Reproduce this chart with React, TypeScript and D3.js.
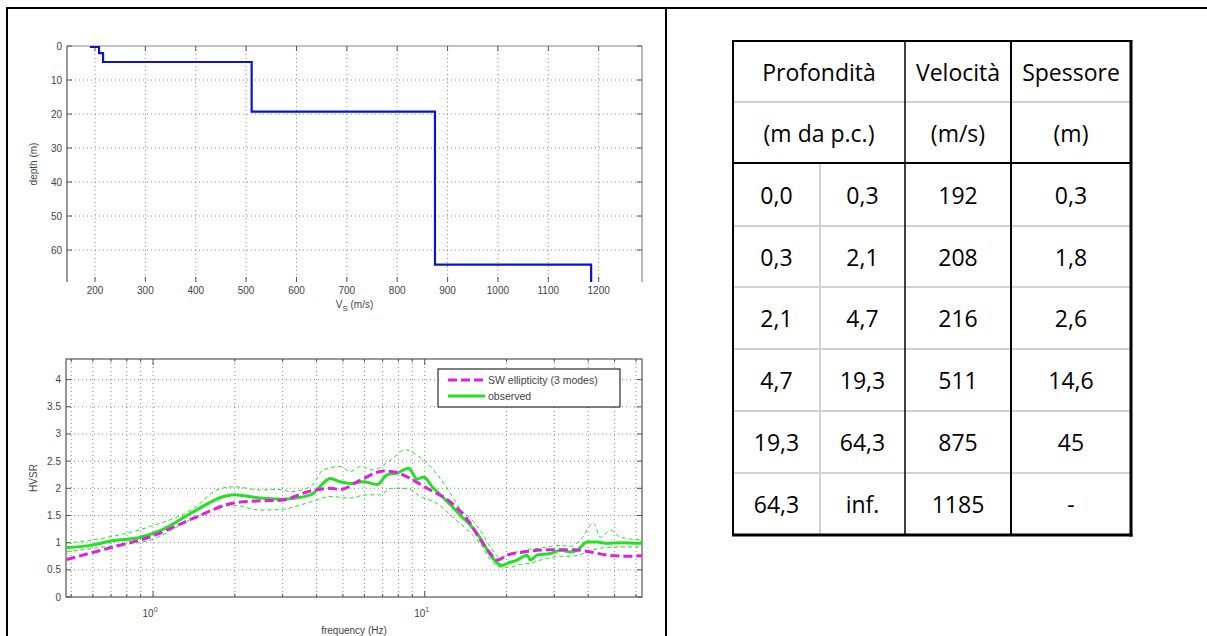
import React from 'react';
import * as d3 from 'd3';

// ---- Table / profile data ----
const depthTop = [0, 0.3, 2.1, 4.7, 19.3, 64.3];
const depthBottom = [0.3, 2.1, 4.7, 19.3, 64.3, Infinity];
const vsValues = [192, 208, 216, 511, 875, 1185];
const thicknessLabels = ['0,3', '1,8', '2,6', '14,6', '45', '-'];

const vsTicks = [200, 300, 400, 500, 600, 700, 800, 900, 1000, 1100, 1200];
const depthTicks = [0, 10, 20, 30, 40, 50, 60];

// ---- HVSR data ----
const ellFreq = [0.48, 0.70, 0.98, 1.41, 1.98, 2.48, 2.94, 3.80, 4.50, 4.89, 5.80, 7.06, 7.91, 8.86, 10.2, 12.43, 14.73, 16.04, 17.46, 18.47, 20.11, 23.14, 29.03, 35.38, 40.75, 46.95, 55.63, 63.1];
const ellVal = [0.69, 0.91, 1.11, 1.45, 1.73, 1.77, 1.78, 1.95, 2.00, 1.98, 2.15, 2.32, 2.29, 2.18, 2.00, 1.75, 1.35, 1.05, 0.80, 0.68, 0.77, 0.83, 0.87, 0.87, 0.83, 0.77, 0.75, 0.76];

const obsFreq = [0.48, 0.59, 0.70, 0.90, 1.06, 1.41, 1.82, 1.98, 2.48, 2.94, 3.80, 4.50, 4.89, 5.33, 5.95, 6.68, 7.27, 7.91, 8.73, 9.38, 9.92, 10.65, 11.59, 12.43, 13.53, 14.73, 16.04, 17.46, 19.27, 20.11, 21.89, 23.83, 24.51, 25.94, 29.03, 31.60, 34.40, 36.41, 39.63, 43.13, 46.95, 52.56, 62.26, 63.1];
const obsVal = [0.91, 0.95, 1.03, 1.10, 1.22, 1.57, 1.85, 1.88, 1.82, 1.80, 1.88, 2.18, 2.12, 2.09, 2.12, 2.07, 2.25, 2.28, 2.37, 2.17, 2.21, 2.03, 1.85, 1.70, 1.50, 1.32, 1.08, 0.77, 0.58, 0.62, 0.68, 0.77, 0.68, 0.77, 0.80, 0.86, 0.83, 0.86, 1.01, 1.01, 0.99, 1.00, 0.99, 1.02];

const obsUpFreq = [0.48, 0.70, 0.98, 1.41, 1.72, 1.98, 2.48, 2.94, 3.20, 3.80, 4.24, 4.89, 5.33, 5.80, 6.47, 7.48, 8.49, 9.09, 10.2, 11.42, 12.43, 13.53, 14.73, 16.04, 17.46, 19.0, 20.68, 22.51, 24.51, 26.67, 29.03, 31.60, 34.40, 37.44, 41.80, 44.36, 48.29, 52.56, 63.1];
const obsUpVal = [0.99, 1.11, 1.30, 1.63, 1.97, 2.03, 1.97, 1.98, 1.94, 2.03, 2.34, 2.40, 2.31, 2.40, 2.34, 2.52, 2.71, 2.65, 2.46, 2.18, 1.91, 1.62, 1.45, 1.22, 0.92, 0.72, 0.80, 0.84, 0.88, 0.90, 0.93, 0.95, 0.93, 1.05, 1.36, 1.10, 1.23, 1.10, 1.05];

const obsLoFreq = [0.48, 0.70, 0.98, 1.41, 1.98, 2.48, 2.94, 3.80, 4.50, 5.33, 6.05, 6.87, 7.48, 8.61, 9.64, 11.11, 12.43, 13.53, 14.73, 16.04, 17.46, 19.0, 20.68, 22.51, 24.51, 26.67, 29.03, 31.60, 34.40, 37.44, 40.75, 44.36, 52.56, 63.1];
const obsLoVal = [0.83, 0.94, 1.05, 1.45, 1.69, 1.60, 1.61, 1.75, 1.85, 1.82, 1.88, 1.88, 2.00, 2.00, 1.85, 1.72, 1.51, 1.35, 1.18, 0.98, 0.68, 0.55, 0.55, 0.60, 0.62, 0.68, 0.72, 0.75, 0.75, 0.78, 0.85, 0.90, 0.92, 0.92];

const hvsrTicks = [0, 0.5, 1, 1.5, 2, 2.5, 3, 3.5, 4];
const hvsrTickLabels = ['0', '0.5', '1', '1.5', '2', '2.5', '3', '3.5', '4'];
const freqGrid = [0.5, 0.6, 0.7, 0.8, 0.9, 1, 2, 3, 4, 5, 6, 7, 8, 9, 10, 20, 30, 40, 50, 60];
const freqMajor = [1, 10];
const freqMajorExp = ['0', '1'];
const legendLabels = ['SW ellipticity (3 modes)', 'observed'];

const tableHeader1 = ['Profondità', 'Velocità', 'Spessore'];
const tableHeader2 = ['(m da p.c.)', '(m/s)', '(m)'];

const fmt = (v: number) => v.toFixed(1).replace('.', ',');

const AX = '#555';
const TXT = '#444';
const GRID = '#8a8a8a';
const chartFont = 'Liberation Sans, Arial, sans-serif';

function zip(a: number[], b: number[]): [number, number][] {
  return a.map((v, i) => [v, b[i]]);
}

function TopChart() {
  const L = 67, R = 642, T = 46, B = 282;
  const x = d3.scaleLinear().domain([144.4, 1286]).range([L, R]);
  const y = d3.scaleLinear().domain([0, 69.4]).range([T, B]);
  const pts: [number, number][] = [];
  vsValues.forEach((v, i) => {
    pts.push([v, depthTop[i]]);
    pts.push([v, Math.min(depthBottom[i], 69.4)]);
  });
  const line = d3.line<[number, number]>().x(d => x(d[0])).y(d => y(d[1]));
  return (
    <g fontFamily={chartFont}>
      {vsTicks.map(t => (
        <line key={'gv' + t} x1={x(t)} x2={x(t)} y1={T} y2={B} stroke={GRID} strokeWidth={1} strokeDasharray="1,3" />
      ))}
      {depthTicks.filter(t => t > 0).map(t => (
        <line key={'gh' + t} x1={L} x2={R} y1={y(t)} y2={y(t)} stroke={GRID} strokeWidth={1} strokeDasharray="1,3" />
      ))}
      <line x1={L} x2={R} y1={T} y2={T} stroke="#888" strokeWidth={1.2} />
      <line x1={L} x2={L} y1={T} y2={B} stroke={AX} strokeWidth={1.2} />
      <line x1={R} x2={R} y1={T} y2={B} stroke="#888" strokeWidth={1.2} />
      {vsTicks.map(t => (
        <g key={'tx' + t}>
          <line x1={x(t)} x2={x(t)} y1={B} y2={B - 5} stroke={AX} />
          <line x1={x(t)} x2={x(t)} y1={T} y2={T + 5} stroke={AX} />
          <text x={x(t)} y={294} fontSize={10} fill={TXT} textAnchor="middle">{t}</text>
        </g>
      ))}
      {depthTicks.map(t => (
        <g key={'ty' + t}>
          <line x1={L} x2={L + 5} y1={y(t)} y2={y(t)} stroke={AX} />
          <line x1={R} x2={R - 5} y1={y(t)} y2={y(t)} stroke={AX} />
          <text x={L - 5} y={y(t) + 3.5} fontSize={10} fill={TXT} textAnchor="end">{t}</text>
        </g>
      ))}
      <path d={line(pts) || ''} fill="none" stroke="#0a14c8" strokeWidth={2.2} />
      <text x={(L + R) / 2} y={308} fontSize={10} fill={TXT} textAnchor="middle">
        V<tspan dy={3} fontSize={8}>S</tspan><tspan dy={-3}> (m/s)</tspan>
      </text>
      <text transform={`translate(37,${(T + B) / 2}) rotate(-90)`} fontSize={10} fill={TXT} textAnchor="middle">depth (m)</text>
    </g>
  );
}

function BottomChart() {
  const L = 66, R = 642, T = 359, B = 597;
  const x = d3.scaleLog().domain([0.478, 63.1]).range([L, R]);
  const y = d3.scaleLinear().domain([0, 4.38]).range([B, T]);
  const line = d3.line<[number, number]>().x(d => x(d[0])).y(d => y(d[1])).curve(d3.curveMonotoneX);
  const green = '#22e022';
  const magenta = '#e020e0';
  return (
    <g fontFamily={chartFont}>
      <defs>
        <clipPath id="hvsrClip"><rect x={L} y={T} width={R - L} height={B - T} /></clipPath>
      </defs>
      {freqGrid.map(t => (
        <line key={'gv' + t} x1={x(t)} x2={x(t)} y1={T} y2={B} stroke={GRID} strokeWidth={1} strokeDasharray="1,3" />
      ))}
      {hvsrTicks.filter(t => t > 0).map(t => (
        <line key={'gh' + t} x1={L} x2={R} y1={y(t)} y2={y(t)} stroke={GRID} strokeWidth={1} strokeDasharray="1,3" />
      ))}
      <rect x={L} y={T} width={R - L} height={B - T} fill="none" stroke={AX} strokeWidth={1.2} />
      {freqGrid.map(t => {
        const major = freqMajor.includes(t);
        return (
          <g key={'tx' + t}>
            <line x1={x(t)} x2={x(t)} y1={B} y2={B - (major ? 6 : 3)} stroke={AX} />
            <line x1={x(t)} x2={x(t)} y1={T} y2={T + (major ? 6 : 3)} stroke={AX} />
          </g>
        );
      })}
      {freqMajor.map((t, i) => (
        <text key={'fl' + t} x={x(t) - 3} y={617} fontSize={10} fill={TXT} textAnchor="middle">
          10<tspan dy={-5} fontSize={7}>{freqMajorExp[i]}</tspan>
        </text>
      ))}
      {hvsrTicks.map((t, i) => (
        <g key={'ty' + t}>
          <line x1={L} x2={L + 5} y1={y(t)} y2={y(t)} stroke={AX} />
          <line x1={R} x2={R - 5} y1={y(t)} y2={y(t)} stroke={AX} />
          <text x={L - 5} y={y(t) + 3.5} fontSize={10} fill={TXT} textAnchor="end">{hvsrTickLabels[i]}</text>
        </g>
      ))}
      <g clipPath="url(#hvsrClip)">
        <path d={line(zip(obsUpFreq, obsUpVal)) || ''} fill="none" stroke={green} strokeWidth={1} strokeDasharray="4,3" />
        <path d={line(zip(obsLoFreq, obsLoVal)) || ''} fill="none" stroke={green} strokeWidth={1} strokeDasharray="4,3" />
        <path d={line(zip(obsFreq, obsVal)) || ''} fill="none" stroke={green} strokeWidth={3} />
        <path d={line(zip(ellFreq, ellVal)) || ''} fill="none" stroke={magenta} strokeWidth={3} strokeDasharray="9,4" />
      </g>
      <rect x={438} y={369} width={182} height={38} fill="#fff" stroke="#000" strokeWidth={1} />
      <line x1={448} x2={485} y1={380} y2={380} stroke={magenta} strokeWidth={3} strokeDasharray="9,4" />
      <text x={488} y={384} fontSize={10.5} fill={TXT}>{legendLabels[0]}</text>
      <line x1={448} x2={485} y1={396} y2={396} stroke={green} strokeWidth={3} />
      <text x={488} y={400} fontSize={10.5} fill={TXT}>{legendLabels[1]}</text>
      <text x={(L + R) / 2} y={634} fontSize={10} fill={TXT} textAnchor="middle">frequency (Hz)</text>
      <text transform={`translate(37,${(T + B) / 2}) rotate(-90)`} fontSize={10} fill={TXT} textAnchor="middle">HVSR</text>
    </g>
  );
}

function Table() {
  const cols = [733, 820, 905, 1011, 1131];
  const rows = [41, 102, 163, 226, 287, 349, 411, 473, 535];
  const font = 'Open Sans, Lato, sans-serif';
  const fs = 23;
  const off = 9;
  const centersAll = [(cols[0] + cols[2]) / 2, (cols[2] + cols[3]) / 2, (cols[3] + cols[4]) / 2];
  const c = (i: number) => (cols[i] + cols[i + 1]) / 2;
  return (
    <g fontFamily={font} fontSize={fs} fill="#000">
      {[rows[1], rows[3], rows[4], rows[5], rows[6], rows[7]].map(r => (
        <line key={'gr' + r} x1={cols[0]} x2={cols[4]} y1={r} y2={r} stroke="#d2d2d2" strokeWidth={2} />
      ))}
      <line x1={cols[1]} x2={cols[1]} y1={rows[2]} y2={rows[8]} stroke="#d2d2d2" strokeWidth={2} />
      <line x1={cols[2]} x2={cols[2]} y1={rows[0]} y2={rows[8]} stroke="#000" strokeWidth={1.5} />
      <line x1={cols[3]} x2={cols[3]} y1={rows[0]} y2={rows[8]} stroke="#000" strokeWidth={2} />
      <line x1={cols[0]} x2={cols[4]} y1={rows[2]} y2={rows[2]} stroke="#000" strokeWidth={2} />
      <line x1={cols[0] - 1} x2={cols[4] + 1.5} y1={rows[0]} y2={rows[0]} stroke="#000" strokeWidth={2} />
      <line x1={cols[0]} x2={cols[0]} y1={rows[0]} y2={rows[8]} stroke="#000" strokeWidth={2} />
      <line x1={cols[4]} x2={cols[4]} y1={rows[0]} y2={rows[8] + 1.5} stroke="#000" strokeWidth={3} />
      <line x1={cols[0] - 1} x2={cols[4] + 1.5} y1={rows[8]} y2={rows[8]} stroke="#000" strokeWidth={3} />
      {tableHeader1.map((h, i) => (
        <text key={'h1' + i} x={centersAll[i]} y={(rows[0] + rows[1]) / 2 + off} textAnchor="middle">{h}</text>
      ))}
      {tableHeader2.map((h, i) => (
        <text key={'h2' + i} x={centersAll[i]} y={(rows[1] + rows[2]) / 2 + off} textAnchor="middle">{h}</text>
      ))}
      {vsValues.map((v, i) => {
        const yy = (rows[i + 2] + rows[i + 3]) / 2 + off;
        const bot = depthBottom[i];
        return (
          <g key={'r' + i}>
            <text x={c(0)} y={yy} textAnchor="middle">{fmt(depthTop[i])}</text>
            <text x={c(1)} y={yy} textAnchor="middle">{isFinite(bot) ? fmt(bot) : 'inf.'}</text>
            <text x={c(2)} y={yy} textAnchor="middle">{v}</text>
            <text x={c(3)} y={yy} textAnchor="middle">{thicknessLabels[i]}</text>
          </g>
        );
      })}
    </g>
  );
}

export default function App() {
  return (
    <svg width={1207} height={636} style={{ position: 'absolute', left: 0, top: 0, background: '#fff' }}>
      <rect x={0} y={0} width={1207} height={636} fill="#fff" />
      <line x1={6} x2={1207} y1={8} y2={8} stroke="#000" strokeWidth={2} />
      <line x1={7} x2={7} y1={8} y2={636} stroke="#000" strokeWidth={2} />
      <line x1={666} x2={666} y1={8} y2={636} stroke="#000" strokeWidth={2} />
      <TopChart />
      <BottomChart />
      <Table />
    </svg>
  );
}
